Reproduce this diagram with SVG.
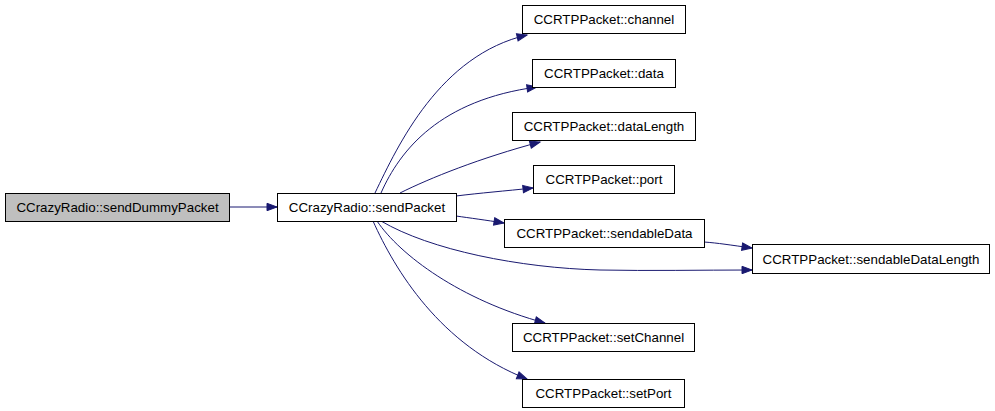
<svg xmlns="http://www.w3.org/2000/svg" width="995" height="411" viewBox="0 0 995 411">
<style>
.node rect{fill:#ffffff;stroke:#000000;stroke-width:1}
.node.hl rect{fill:#bfbfbf}
.node text{font-family:"Liberation Sans",Arial,Helvetica,sans-serif;font-size:13.33px;fill:#000000;text-anchor:middle}
.edges path{fill:none;stroke:#191970;stroke-width:1;marker-end:url(#arr)}
</style>
<defs>
<marker id="arr" markerUnits="userSpaceOnUse" markerWidth="12" markerHeight="10" refX="0" refY="0" viewBox="-11 -5 12 10" orient="auto" overflow="visible">
<polygon points="-10,-3.7 0,0 -10,3.7" fill="#191970" stroke="#191970"/>
</marker>
</defs>
<rect width="995" height="411" fill="#ffffff"/>
<g class="edges">
<path d="M230,207 L277,207"/>
<path d="M375,193 C398,145 440,55 527,35"/>
<path d="M381,193 C400,150 440,100 537,87"/>
<path d="M400,193 C430,178 480,158 540,142"/>
<path d="M456,196 C480,193 505,191 533,188"/>
<path d="M456,216 C470,218 485,220 504,223"/>
<path d="M704,242 C718,243 730,245 752,248"/>
<path d="M381,221 C430,250 520,268 600,270 C650,271 700,270 752,270"/>
<path d="M377,221 C400,255 460,300 545,323"/>
<path d="M373,221 C395,270 440,345 527,379"/>
</g>
<g id="node1" class="node hl"><rect x="5.5" y="193.5" width="224" height="28"/><text x="117.5" y="212">CCrazyRadio::sendDummyPacket</text></g>
<g id="node2" class="node"><rect x="277.5" y="193.5" width="179" height="28"/><text x="367" y="212">CCrazyRadio::sendPacket</text></g>
<g id="node3" class="node"><rect x="522.5" y="5.5" width="163" height="28"/><text x="604" y="24">CCRTPPacket::channel</text></g>
<g id="node4" class="node"><rect x="532.5" y="59.5" width="143" height="28"/><text x="604" y="78">CCRTPPacket::data</text></g>
<g id="node5" class="node"><rect x="512.5" y="112.5" width="183" height="28"/><text x="604" y="131">CCRTPPacket::dataLength</text></g>
<g id="node6" class="node"><rect x="533.5" y="165.5" width="141" height="28"/><text x="604" y="184">CCRTPPacket::port</text></g>
<g id="node7" class="node"><rect x="504.5" y="219.5" width="200" height="28"/><text x="604.5" y="238">CCRTPPacket::sendableData</text></g>
<g id="node8" class="node"><rect x="752.5" y="244.5" width="237" height="29"/><text x="871" y="264">CCRTPPacket::sendableDataLength</text></g>
<g id="node9" class="node"><rect x="512.5" y="323.5" width="182" height="28"/><text x="603.5" y="342">CCRTPPacket::setChannel</text></g>
<g id="node10" class="node"><rect x="522.5" y="379.5" width="162" height="28"/><text x="603.5" y="398">CCRTPPacket::setPort</text></g>
</svg>
